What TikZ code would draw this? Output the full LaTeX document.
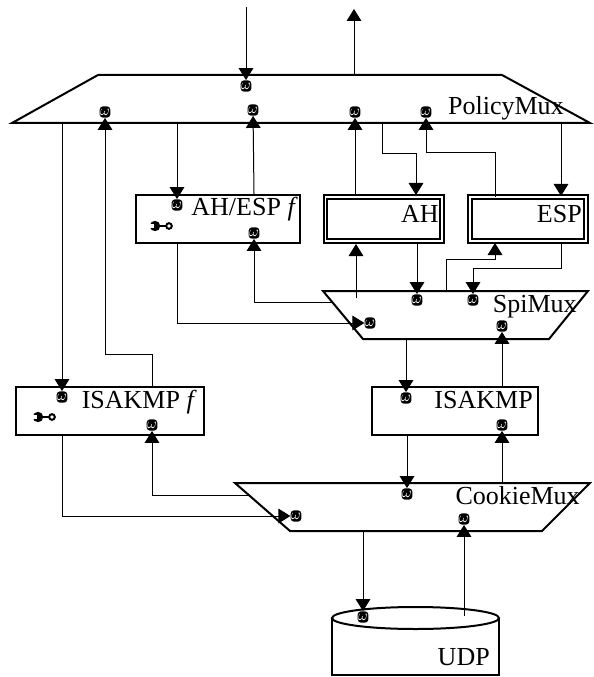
\documentclass[tikz,border=0pt]{standalone}
\usepackage{fontspec}
\setmainfont{Liberation Serif}
\usetikzlibrary{arrows.meta, shapes.geometric}

\begin{document}
\begin{tikzpicture}[
    x=0.75pt, y=-0.75pt,
    >={Triangle[length=9pt,width=11pt]},
    % Style for the plain boxes
    box/.style = {
        rectangle,
        draw=black,
        line width=1.5pt,
        inner sep=0pt,
        minimum height=36pt
    },
    % Style for the double boxes
    doublebox/.style = {
        rectangle,
        draw=black,
        line width=1.5pt,
        double=white,
        double distance=1.2pt,
        inner sep=0pt,
        minimum height=33pt
    },
    % Style for the multiplexers
    mux/.style = {draw=black, line width=1.5pt, line join=miter},
    % Style for the small ports
    port/.style = {
        rectangle,
        fill=black,
        text=white,
        rounded corners=2.5pt,
        inner sep=0pt,
        minimum width=8pt,
        minimum height=8.5pt,
        font=\fontsize{10.5}{10.5}\selectfont
    },
    % Style for the labels
    title/.style = {anchor=base east, inner sep=0pt, font=\fontsize{19.5}{20}\selectfont},
    % Style for the lines
    connection/.style = {draw, ->, line width=0.75pt, black},
    wrench/.pic = {
        \draw [line width=2.2pt] (-5,0) -- (6,0);
        \fill (-6,0) circle [radius=5.2];
        \fill [white] (-12,-1.7) rectangle (-7,1.7);
        \draw [line width=1.5pt, fill=white] (8,0) circle [radius=2.8];
    }
]
    \useasboundingbox (0,0) rectangle (593,677);

    % --- SHAPES ---

    % Multiplexers
    \draw [mux] (98,75) coordinate (policyTop) -- (502,75) -- (590,123) -- (12,123) coordinate (policyBottom) -- cycle;
    \draw [mux] (323,291) coordinate (spiTop) -- (588,291) -- (549,339) -- (363,339) coordinate (spiBottom) -- cycle;
    \draw [mux] (235,483) coordinate (cookieTop) -- (590,483) -- (542,531) -- (290,531) coordinate (cookieBottom) -- cycle;

    % Boxes
    \node [box, minimum width=123pt] (ahesp) at (218,219) {};
    \node [doublebox, minimum width=87.4pt] (ah) at (383.7,219) {};
    \node [doublebox, minimum width=87pt] (esp) at (528,219) {};
    \node [box, minimum width=124.5pt] (isakmp) at (455,411) {};
    \node [box, minimum width=141pt] (isakmpf) at (110,411) {};

    % UDP drum
    \node [ellipse, draw, line width=1.5pt, inner sep=0pt, outer sep=0pt, minimum width=125.25pt, minimum height=16.5pt] (udp) at (415.5,618) {};
    \draw [line width=1.5pt] (udp.west) -- ++(0,57) -- ++(167,0) -- (udp.east);

    % Wrenches
    \pic at (161,226) {wrench};
    \pic at (44,417) {wrench};

    % --- LABELS ---
    \node [title] (policyName) at (564,115) {PolicyMux};
    \node [title] (ahespName) at (298,215) {AH/ESP \textit{f}};
    \node [title] (ahName) at (439,222) {AH};
    \node [title] (espName) at (582,222) {ESP};
    \node [title] (spiName) at (577,312) {SpiMux};
    \node [title] (isakmpName) at (533,408) {ISAKMP};
    \node [title] (isakmpfName) at (197,408) {ISAKMP \textit{f}};
    \node [title] (cookieName) at (580,504) {CookieMux};
    \node [title] (udpName) at (490,665) {UDP};

    % --- PORTS ---
    \node [port] (policyIn) at (246,86) {$\omega$};
    \node [port] (policyA) at (105,112) {$\omega$};
    \node [port] (policyB) at (253,110) {$\omega$};
    \node [port] (policyC) at (355,112) {$\omega$};
    \node [port] (policyD) at (426,112) {$\omega$};
    \node [port] (ahespIn) at (177,205) {$\omega$};
    \node [port] (ahespOut) at (254,233) {$\omega$};
    \node [port] (spiAh) at (417,300) {$\omega$};
    \node [port] (spiEsp) at (473,300) {$\omega$};
    \node [port] (spiIn) at (370,323) {$\omega$};
    \node [port] (spiUp) at (502,326) {$\omega$};
    \node [port] (isakmpIn) at (406,398) {$\omega$};
    \node [port] (isakmpUp) at (502,425) {$\omega$};
    \node [port] (isakmpfIn) at (62,397) {$\omega$};
    \node [port] (isakmpfUp) at (152,425) {$\omega$};
    \node [port] (cookieA) at (407,494) {$\omega$};
    \node [port] (cookieIn) at (296,516) {$\omega$};
    \node [port] (cookieUp) at (464,519) {$\omega$};
    \node [port] (udpIn) at (363,617) {$\omega$};

    % Free ends
    \coordinate (topIn) at (246,7);
    \coordinate (topOut) at (354,9);
    \coordinate (ahDrop) at (382,123);
    \coordinate (ahIn) at (416,195);
    \coordinate (espIn) at (561,196);
    \coordinate (espOut) at (495,197);
    \coordinate (espUp) at (495,243);
    \coordinate (ahUp) at (356,244);
    \coordinate (spiAhOut) at (356,298);
    \coordinate (spiEspOut) at (446,291);
    \coordinate (spiLeft) at (332,302);
    \coordinate (cookieLeft) at (249,495);
    \coordinate (udpOut) at (464,616);

    % --- CONNECTIONS ---

    % Top of PolicyMux
    \draw [connection] (topIn) -- (policyIn);
    \draw [connection] (policyTop -| topOut) -- (topOut);

    % PolicyMux and the functions
    \draw [connection] (policyBottom -| isakmpfIn) -- (isakmpfIn);
    \draw [connection] (isakmpf.north -| isakmpfUp) -- ++(0,-32) -| (policyA);
    \draw [connection] (policyBottom -| ahespIn) -- (ahespIn);
    \draw [connection] (ahesp.north -| ahespOut) -- (policyB);

    % PolicyMux and AH, ESP
    \draw [connection] (ah.north -| policyC) -- (policyC);
    \draw [connection] (ahDrop) -- ++(0,31) -| (ahIn);
    \draw [connection] (espOut) -- ++(0,-44) -| (policyD);
    \draw [connection] (espIn |- policyBottom) -- (espIn);

    % AH, ESP and SpiMux
    \draw [connection] (spiAhOut) -- (ahUp);
    \draw [connection] (ah.south -| spiAh) -- (spiAh);
    \draw [connection] (spiEspOut) -- ++(0,-32) -| (espUp);
    \draw [connection] (espIn |- esp.south) -- ++(0,26) -| (spiEsp);

    % AH/ESP f and SpiMux
    \draw [connection] (ahesp.south -| ahespIn) |- (spiIn);
    \draw [connection] (spiLeft) -| (ahespOut);

    % SpiMux and ISAKMP
    \draw [connection] (spiBottom -| isakmpIn) -- (isakmpIn);
    \draw [connection] (isakmp.north -| spiUp) -- (spiUp);

    % ISAKMP and CookieMux
    \draw [connection] (isakmp.south -| cookieA) -- (cookieA);
    \draw [connection] (cookieTop -| isakmpUp) -- (isakmpUp);

    % ISAKMP f and CookieMux
    \draw [connection] (isakmpf.south -| isakmpfIn) |- (cookieIn);
    \draw [connection] (cookieLeft) -| (isakmpfUp);

    % CookieMux and UDP
    \draw [connection] (cookieBottom -| udpIn) -- (udpIn);
    \draw [connection] (udpOut) -- (cookieUp);

\end{tikzpicture}
\end{document}
